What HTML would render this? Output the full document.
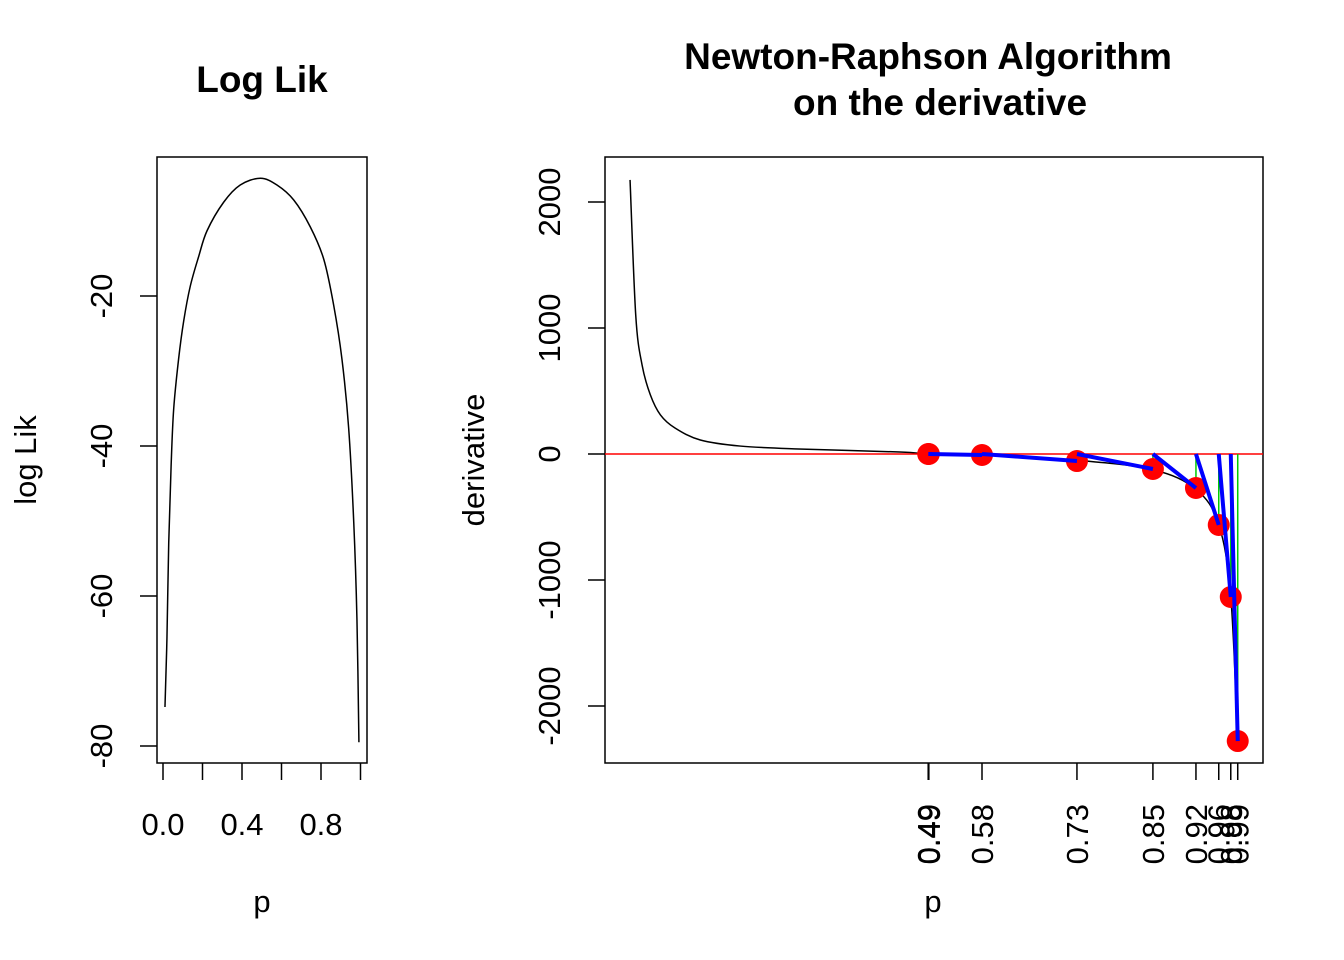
<!DOCTYPE html>
<html><head><meta charset="utf-8"><style>
body{margin:0;background:#fff}
svg{display:block;font-family:"Liberation Sans",sans-serif}
</style></head><body>
<svg id="c" width="1344" height="960" xmlns="http://www.w3.org/2000/svg">
<rect width="1344" height="960" fill="#fff"/>
<text x="262" y="92" font-size="37" font-weight="bold" text-anchor="middle">Log Lik</text>
<text x="928" y="69" font-size="37" font-weight="bold" text-anchor="middle">Newton-Raphson Algorithm</text>
<text x="940" y="115" font-size="37" font-weight="bold" text-anchor="middle">on the derivative</text>
<rect x="157" y="157" width="210" height="606" fill="none" stroke="#000" stroke-width="1.5"/>
<rect x="605" y="157" width="658" height="606" fill="none" stroke="#000" stroke-width="1.5"/>
<text x="262" y="912" font-size="31" text-anchor="middle">p</text>
<text x="933" y="912" font-size="31" text-anchor="middle">p</text>
<text transform="translate(36,460) rotate(-90)" font-size="31" text-anchor="middle">log Lik</text>
<text transform="translate(484,460) rotate(-90)" font-size="31" text-anchor="middle">derivative</text>
<g id="g"></g>
</svg>
<script>
const llP=[0.010,0.020,0.029,0.041,0.054,0.079,0.105,0.138,0.181,0.223,0.307,0.391,0.493,0.577,0.662,0.746,0.814,0.864,0.906,0.940,0.966,0.982,0.992];
const llV=[-74.8,-65.6,-52.9,-42.7,-35.1,-28.4,-23.3,-18.7,-14.7,-11.3,-7.5,-5.2,-4.3,-5.2,-7.2,-10.8,-15.1,-21.2,-28.4,-37.6,-50.3,-63.1,-79.5];
const lxTicks=[0,0.2,0.4,0.6,0.8,1.0];
const lxLabels=["0.0","","0.4","","0.8",""];
const lyTicks=[-20,-40,-60,-80];
const dP=[0.024,0.033,0.043,0.056,0.072,0.095,0.135,0.198,0.29,0.45,0.496,0.58,0.73,0.85,0.918,0.954,0.973,0.984];
const dV=[2175,1100,706,470,310,206,111,63,40,16,0,-8,-50,-125,-280,-560,-1135,-2278];
const iterP=[0.495,0.496,0.58,0.73,0.85,0.918,0.954,0.973,0.984];
const iterV=[0,0,-8,-56,-119,-270,-563,-1135,-2278];
const iterLabels=["0.49","0.49","0.58","0.73","0.85","0.92","0.96","0.98","0.99"];
const ryTicks=[2000,1000,0,-1000,-2000];

const lx=p=>163+p*197.5, ly=v=>296-(v+20)*7.5;
const rx=p=>982+(p-0.58)*633, ry=v=>454-v*0.126;
const g=document.getElementById('g');
const NS="http://www.w3.org/2000/svg";
function mk(t,a){const e=document.createElementNS(NS,t);for(const k in a)e.setAttribute(k,a[k]);g.appendChild(e);return e;}
function spline(pts){let d="M"+pts[0][0]+","+pts[0][1];for(let i=0;i<pts.length-1;i++){const p0=pts[Math.max(0,i-1)],p1=pts[i],p2=pts[i+1],p3=pts[Math.min(pts.length-1,i+2)];d+=" C"+(p1[0]+(p2[0]-p0[0])/6)+","+(p1[1]+(p2[1]-p0[1])/6)+" "+(p2[0]-(p3[0]-p1[0])/6)+","+(p2[1]-(p3[1]-p1[1])/6)+" "+p2[0]+","+p2[1];}return d;}

lxTicks.forEach((t,i)=>{
  let e=mk('line',{x1:lx(t),x2:lx(t),y1:763,y2:780,stroke:'#000','stroke-width':1.5});
  
  
  if(lxLabels[i]){let s=mk('text',{x:lx(t),y:835,'font-size':31,'text-anchor':'middle'});s.textContent=lxLabels[i];
  
  }
});
lyTicks.forEach(t=>{
  let e=mk('line',{x1:140,x2:157,y1:ly(t),y2:ly(t),stroke:'#000','stroke-width':1.5});
  
  
  let s=mk('text',{transform:`translate(112,${ly(t)}) rotate(-90)`,'font-size':31,'text-anchor':'middle'});s.textContent=t;
  
  
});
let lc=mk('path',{d:spline(llP.map((p,i)=>[lx(p),ly(llV[i])])),fill:'none',stroke:'#000','stroke-width':1.5});



ryTicks.forEach(t=>{
  let e=mk('line',{x1:588,x2:605,y1:ry(t),y2:ry(t),stroke:'#000','stroke-width':1.5});
  
  
  let s=mk('text',{transform:`translate(560,${ry(t)}) rotate(-90)`,'font-size':31,'text-anchor':'middle'});s.textContent=t;
  
  
});
iterP.forEach((p,i)=>{
  let e=mk('line',{x1:rx(p),x2:rx(p),y1:763,y2:780,stroke:'#000','stroke-width':1.5});
  
  
  let s=mk('text',{transform:`translate(${rx(p)+11},804) rotate(-90)`,'font-size':31,'text-anchor':'end'});s.textContent=iterLabels[i];
  
  
});
let rc=mk('path',{d:spline(dP.map((p,i)=>[rx(p),ry(dV[i])])),fill:'none',stroke:'#000','stroke-width':1.5});


let zl=mk('line',{x1:605,x2:1263,y1:ry(0),y2:ry(0),stroke:'#f00','stroke-width':1.5});


for(let i=0;i<iterP.length-1;i++){
  let gr=mk('line',{x1:rx(iterP[i+1]),x2:rx(iterP[i+1]),y1:ry(0),y2:ry(iterV[i+1]),stroke:'#0c0','stroke-width':1.5});
  
  
}
iterP.forEach((p,i)=>{
  let c=mk('circle',{cx:rx(p),cy:ry(iterV[i]),r:11,fill:'#f00'});
  
  
});
for(let i=0;i<iterP.length-1;i++){
  let b=mk('line',{x1:rx(iterP[i]),x2:rx(iterP[i+1]),y1:ry(0),y2:ry(iterV[i+1]),stroke:'#00f','stroke-width':4});
  
  
}
</script>
</body></html>
